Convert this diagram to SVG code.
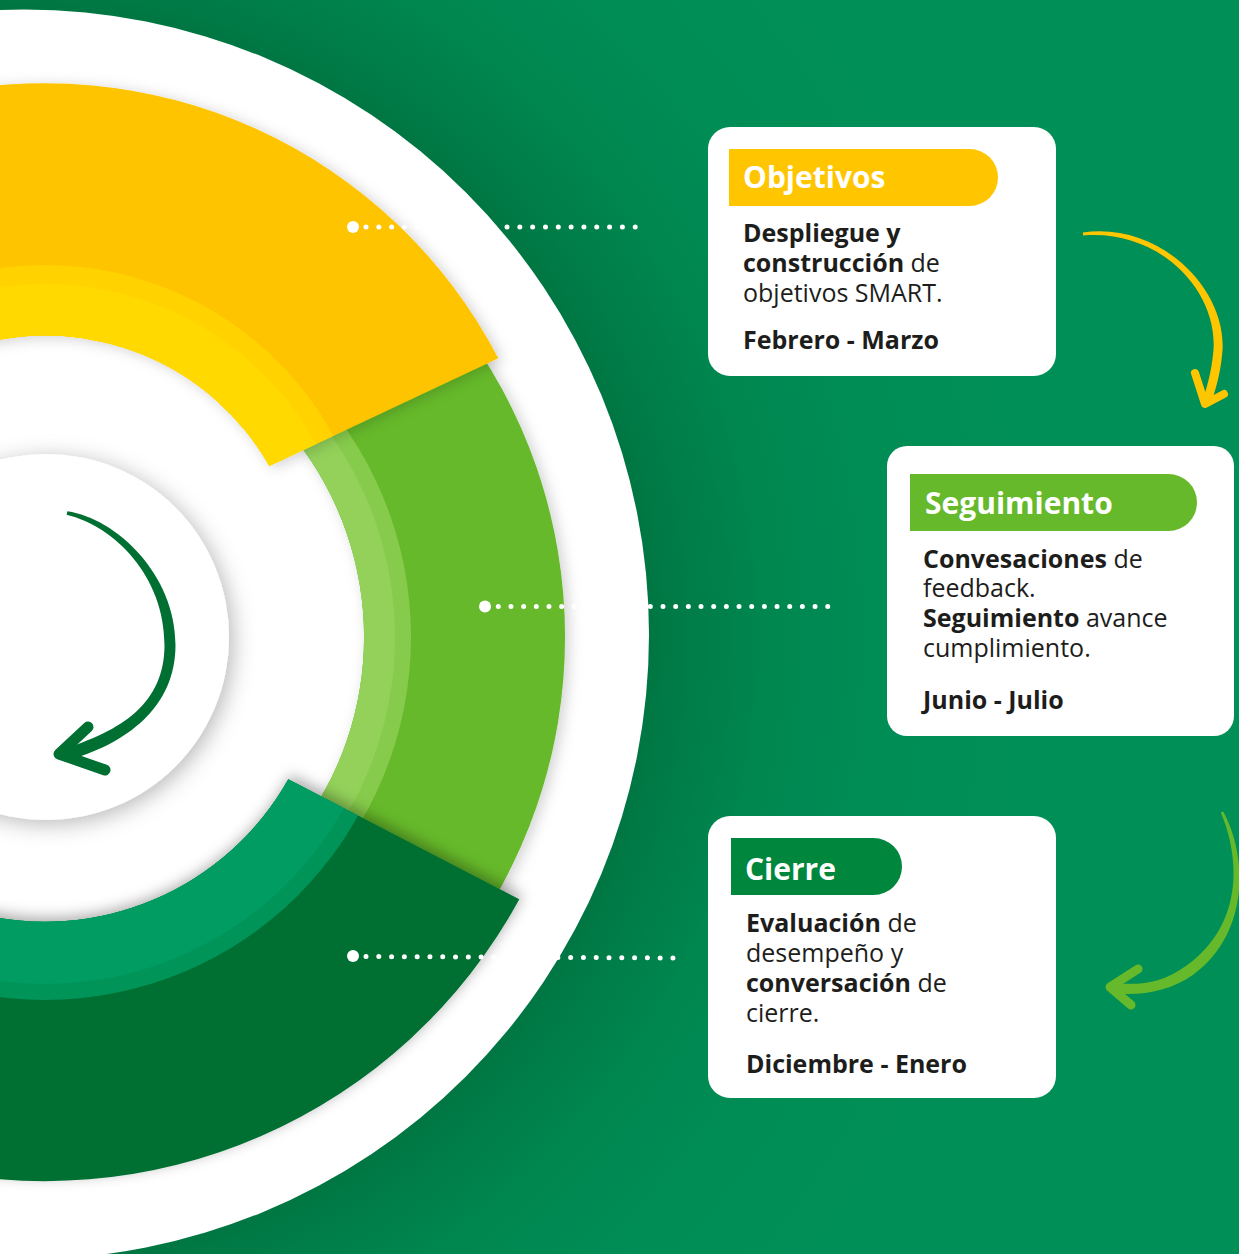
<svg xmlns="http://www.w3.org/2000/svg" width="1239" height="1254" viewBox="0 0 1239 1254">
  <defs>
    <style>
      .card { fill: #ffffff; }
      .txt { font-family: "Open Sans", "Noto Sans", "DejaVu Sans", sans-serif; }
      .ttl { font-size: 30px; font-weight: 700; fill: #ffffff; }
      .body { font-size: 25px; font-weight: 400; fill: #1d1d1b; }
      .b { font-weight: 700; }
      .dots { fill: none; stroke: #ffffff; stroke-width: 5; stroke-linecap: round; }
      .dot { fill: #ffffff; }
      .head { fill: none; stroke-linecap: round; stroke-linejoin: round; }
    </style>
    <radialGradient id="bgShade" gradientUnits="userSpaceOnUse" cx="24" cy="634" r="1000">
      <stop offset="0.60" stop-color="#00723f"/>
      <stop offset="0.64" stop-color="#007945"/>
      <stop offset="0.74" stop-color="#00864f"/>
      <stop offset="0.86" stop-color="#008d55"/>
      <stop offset="1" stop-color="#008f56"/>
    </radialGradient>
    <filter id="shDisk" x="-30%" y="-30%" width="160%" height="160%">
      <feDropShadow dx="4" dy="4" stdDeviation="11" flood-color="#000" flood-opacity="0.28"/>
    </filter>
    <filter id="shSeg" x="-20%" y="-20%" width="140%" height="140%">
      <feDropShadow dx="4" dy="2" stdDeviation="7" flood-color="#000" flood-opacity="0.18"/>
    </filter>
    <filter id="shLow" x="-20%" y="-20%" width="140%" height="140%">
      <feDropShadow dx="3" dy="-4" stdDeviation="7" flood-color="#000" flood-opacity="0.32"/>
    </filter>
    <clipPath id="clipYellow">
      <path d="M498.3 358.3 A511 511 0 0 0 -466 594 L-213 594 A258 258 0 0 1 269.3 466 Z"/>
    </clipPath>
    <clipPath id="clipGreen">
      <path d="M45 637 m409.8 -320.1 A520 520 0 0 1 454.8 957.2 L296.4 833.5 A319 319 0 0 0 296.4 440.6 Z"/>
    </clipPath>
    <clipPath id="clipDark">
      <path d="M519.3 899.3 A540 540 0 0 1 -495 642 L-234 642 A279 279 0 0 0 288.3 779.3 Z"/>
    </clipPath>
  </defs>

  <!-- background with soft shade around the wheel -->
  <rect x="0" y="0" width="1239" height="1254" fill="url(#bgShade)"/>

  <!-- wheel -->
  <g id="wheel">
    <circle cx="24" cy="634.5" r="625" fill="#ffffff"/>

    <g id="seg-seguimiento" filter="url(#shSeg)">
      <g clip-path="url(#clipGreen)">
        <rect x="0" y="200" width="600" height="850" fill="#66b92a"/>
        <circle cx="45" cy="637" r="366" fill="#86cb4b"/>
        <circle cx="45" cy="637" r="350" fill="#93d15a"/>
      </g>
    </g>

    <g id="seg-objetivos" filter="url(#shSeg)">
      <g clip-path="url(#clipYellow)">
        <rect x="-500" y="0" width="1100" height="700" fill="#ffc400"/>
        <circle cx="45" cy="594" r="329" fill="#ffd200"/>
        <circle cx="45" cy="594" r="310" fill="#ffd900"/>
      </g>
    </g>

    <g id="seg-cierre" filter="url(#shLow)">
      <g clip-path="url(#clipDark)">
        <rect x="-500" y="600" width="1100" height="700" fill="#006f33"/>
        <circle cx="45" cy="642" r="358" fill="#009459"/>
        <circle cx="45" cy="642" r="342" fill="#009c62"/>
      </g>
    </g>

    <circle id="hub" cx="46" cy="637" r="183" fill="#ffffff" filter="url(#shDisk)"/>

    <!-- cycle arrow in the hub -->
    <g id="hub-arrow" fill="#006f32">
      <path d="M66.6 514.8 C114 526 164.5 576 164.5 645 C164.5 703 122.5 731 60 750 L64 761.5 C127.5 744 175.5 707 175.5 645 C175.5 574 116 518.5 67.4 511.2 Z"/>
      <polyline class="head" points="88,727 59,754 105,770" stroke="#006f32" stroke-width="11"/>
    </g>
  </g>

  <!-- connectors -->
  <g id="connectors">
    <circle class="dot" cx="353" cy="227" r="6"/>
    <line class="dots" x1="366" y1="227" x2="648" y2="227" stroke-dasharray="0 12.82"/>

    <circle class="dot" cx="485" cy="606.5" r="6"/>
    <line class="dots" x1="498.3" y1="606.5" x2="830" y2="606.5" stroke-dasharray="0 12.67"/>

    <circle class="dot" cx="353" cy="956" r="6"/>
    <line class="dots" x1="366" y1="956.5" x2="673" y2="958" stroke-dasharray="0 12.79"/>

    <!-- Objetivos to Seguimiento -->
    <g id="arrow-obj-seg" fill="#ffc600">
      <path d="M1083.2 235.5 C1159 229 1217.5 290 1213.5 349.5 C1211.5 374 1206 390 1201.8 402.5 L1210.2 405.5 C1214.3 393.5 1220.5 376 1222.5 350.5 C1226.5 289 1160 221.5 1082.8 232.5 Z"/>
      <polyline class="head" points="1195,373 1205,404 1224,394" stroke="#ffc600" stroke-width="8"/>
    </g>

    <!-- Seguimiento to Cierre -->
    <g id="arrow-seg-cie" fill="#66b92a">
      <path d="M1220.8 812.6 C1241.5 861.5 1241.5 926 1186.5 965.5 C1162 983.5 1140.5 985.5 1112.5 983 L1111.5 993 C1139.5 996 1168 992.5 1193.5 974.5 C1248.5 934 1248.5 858.5 1223.2 811.4 Z"/>
      <polyline class="head" points="1138,969 1110,987 1131,1005" stroke="#66b92a" stroke-width="9"/>
    </g>
  </g>

  <!-- card: Objetivos -->
  <g id="card-objetivos">
    <rect class="card" x="708" y="127" width="348" height="249" rx="22"/>
    <path d="M729 149 H969.5 A28.5 28.5 0 0 1 969.5 206 H729 Z" fill="#ffc600"/>
    <text class="txt ttl" x="743" y="188">Objetivos</text>
    <text class="txt body" x="743" y="241.5"><tspan class="b">Despliegue y</tspan><tspan x="743" dy="30" class="b">construcción</tspan> de<tspan x="743" dy="30.5">objetivos SMART.</tspan></text>
    <text class="txt body b" x="743" y="349">Febrero - Marzo</text>
  </g>

  <!-- card: Seguimiento -->
  <g id="card-seguimiento">
    <rect class="card" x="887" y="446" width="347" height="290" rx="20"/>
    <path d="M910 474 H1168.5 A28.5 28.5 0 0 1 1168.5 531 H910 Z" fill="#66b92a"/>
    <text class="txt ttl" x="925" y="514">Seguimiento</text>
    <text class="txt body" x="923" y="567.5"><tspan class="b">Convesaciones</tspan> de<tspan x="923" dy="29">feedback.</tspan><tspan x="923" dy="30" class="b">Seguimiento</tspan> avance<tspan x="923" dy="30">cumplimiento.</tspan></text>
    <text class="txt body b" x="923" y="709">Junio - Julio</text>
  </g>

  <!-- card: Cierre -->
  <g id="card-cierre">
    <rect class="card" x="708" y="816" width="348" height="282" rx="22"/>
    <path d="M731 838 H873.5 A28.5 28.5 0 0 1 873.5 895 H731 Z" fill="#00873d"/>
    <text class="txt ttl" x="745" y="880">Cierre</text>
    <text class="txt body" x="746" y="932"><tspan class="b">Evaluación</tspan> de<tspan x="746" dy="30">desempeño y</tspan><tspan x="746" dy="30" class="b">conversación</tspan> de<tspan x="746" dy="30">cierre.</tspan></text>
    <text class="txt body b" x="746" y="1073">Diciembre - Enero</text>
  </g>
</svg>
